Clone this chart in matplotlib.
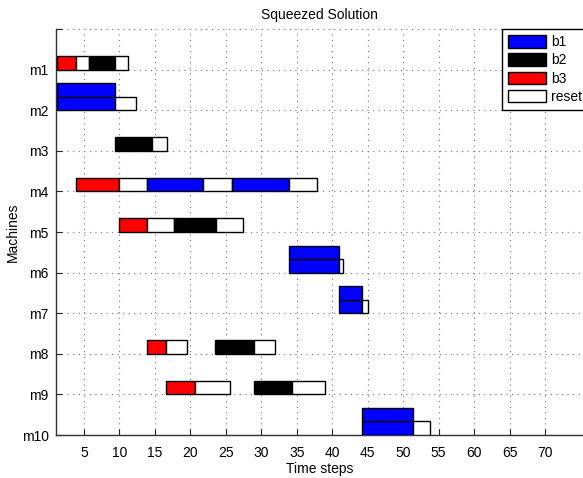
import matplotlib
matplotlib.use("Agg")
import matplotlib.pyplot as plt
from matplotlib.patches import Patch

plt.rcParams['font.family'] = ['Liberation Sans', 'DejaVu Sans']
plt.rcParams['font.size'] = 10

# Schedule data
machines = ['m1', 'm2', 'm3', 'm4', 'm5', 'm6', 'm7', 'm8', 'm9', 'm10']
kinds = ['b1', 'b2', 'b3', 'reset']
kind_colors = ['#0000ff', '#000000', '#ff0000', '#ffffff']

# One entry per scheduled segment: machine number, start, end, kind, stacked batches
seg_machine = [1, 1, 1, 1,
               2, 2,
               3, 3,
               4, 4, 4, 4, 4, 4,
               5, 5, 5, 5,
               6, 6,
               7, 7,
               8, 8, 8, 8,
               9, 9, 9, 9,
               10, 10]
seg_start = [1.24, 3.88, 5.67, 9.38,
             1.24, 9.42,
             9.38, 14.64,
             3.88, 9.90, 13.93, 21.83, 25.83, 33.95,
             9.94, 13.93, 17.74, 23.58,
             33.91, 41.00,
             40.96, 44.20,
             13.93, 16.61, 23.48, 29.02,
             16.61, 20.61, 29.02, 34.29,
             44.16, 51.44]
seg_end = [3.88, 5.67, 9.38, 11.17,
           9.42, 12.30,
           14.64, 16.67,
           9.90, 13.93, 21.83, 25.83, 33.95, 37.82,
           13.93, 17.74, 23.58, 27.38,
           41.00, 41.48,
           44.20, 45.01,
           16.61, 19.53, 29.02, 31.94,
           20.61, 25.55, 34.29, 38.99,
           51.44, 53.79]
seg_kind = ['b3', 'reset', 'b2', 'reset',
            'b1', 'reset',
            'b2', 'reset',
            'b3', 'reset', 'b1', 'reset', 'b1', 'reset',
            'b3', 'reset', 'b2', 'reset',
            'b1', 'reset',
            'b1', 'reset',
            'b3', 'reset', 'b2', 'reset',
            'b3', 'reset', 'b2', 'reset',
            'b1', 'reset']
seg_stack = [1, 1, 1, 1,
             2, 1,
             1, 1,
             1, 1, 1, 1, 1, 1,
             1, 1, 1, 1,
             2, 1,
             2, 1,
             1, 1, 1, 1,
             1, 1, 1, 1,
             2, 1]

x_ticks = list(range(5, 75, 5))

fig = plt.figure(figsize=(5.83, 4.78), dpi=100)
ax = fig.add_axes([55.6 / 583, 43 / 478, 528.4 / 583, 406 / 478])

row_h = 1.0 / 3.0
color_of = dict(zip(kinds, kind_colors))
for m, s, e, k, n in zip(seg_machine, seg_start, seg_end, seg_kind, seg_stack):
    for level in range(n):
        ax.barh(m - row_h / 2 - level * row_h, e - s, left=s, height=row_h,
                color=color_of[k], edgecolor='black', linewidth=1.0, zorder=3)

ax.set_xlim(1, 75.5)
ax.set_ylim(10, 0)
ax.set_xticks(x_ticks)
ax.set_yticks(range(0, 11))
ax.set_yticklabels([''] + machines)

ax.grid(True, color='#777777', linestyle=(0, (1, 4)), linewidth=0.8, zorder=0)
ax.set_axisbelow(True)

for side in ('top', 'right'):
    ax.spines[side].set_visible(False)
for side in ('left', 'bottom'):
    ax.spines[side].set_color('#333333')
    ax.spines[side].set_linewidth(1.0)
ax.tick_params(direction='in', length=4, width=0.8, color='#222222',
               labelsize=10)
ax.tick_params(axis='x', pad=8)
ax.tick_params(axis='y', pad=5)

ax.set_title('Squeezed Solution', fontsize=10, pad=7)
ax.set_xlabel('Time steps', fontsize=10, labelpad=1)
ax.set_ylabel('Machines', fontsize=10, labelpad=1)

handles = [Patch(facecolor=c, edgecolor='black', linewidth=1.0) for c in kind_colors]
leg = fig.legend(handles, kinds, loc='upper left',
                 bbox_to_anchor=(502 / 583, 1 - 29 / 478),
                 frameon=True, fancybox=False, framealpha=1.0,
                 edgecolor='black', fontsize=10, handlelength=2.7,
                 handleheight=1.0, handletextpad=0.4, labelspacing=0.3,
                 borderpad=0.45, borderaxespad=0.0)
leg.get_frame().set_linewidth(1.0)

fig.savefig('out.png', dpi=100)
